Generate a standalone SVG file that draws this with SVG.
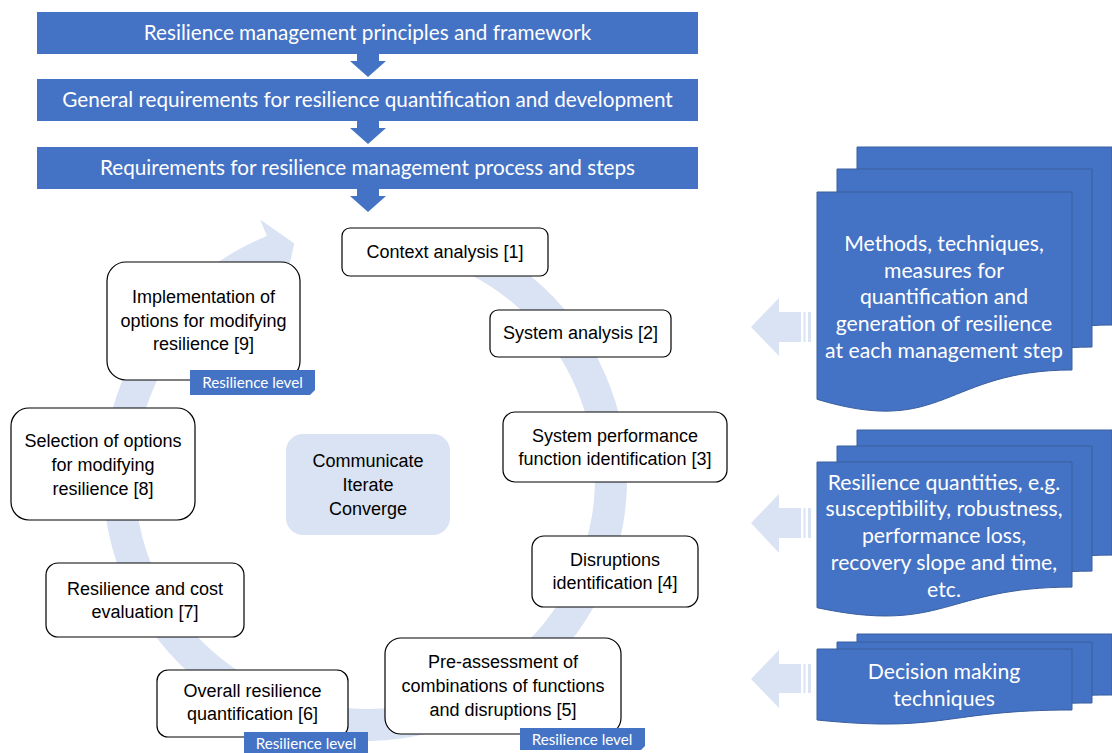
<svg xmlns="http://www.w3.org/2000/svg" width="1112" height="753" viewBox="0 0 1112 753">
<style>
.bar{fill:#4472c4}
.btxt{font-family:Lato,"Open Sans","Liberation Sans",sans-serif;font-size:20.7px;fill:#fff;text-anchor:middle}
.box{fill:#fff;stroke:#000;stroke-width:1.2}
.ntxt{font-family:"Liberation Sans",Arial,sans-serif;font-size:18px;fill:#000;text-anchor:middle}
.tag{fill:#4472c4}
.ttxt{font-family:Lato,"Open Sans",sans-serif;font-size:15.2px;fill:#fff;text-anchor:middle}
.doc{fill:#4472c4;stroke:#3a5f9f;stroke-width:1}
.dtxt{font-family:Lato,"Open Sans",sans-serif;font-size:21.2px;fill:#fff;text-anchor:middle}
.light{fill:#dae3f3}
.darr{fill:#4472c4}
</style>
<rect width="1112" height="753" fill="#fff"/>

<g id="connectors">
  <path class="light" d="M454.6,232.8 A262,262 0 1 1 266.9,236.1 L260.1,219.4 L294.3,243.4 L285.6,282.4 L278.8,265.7 A230,230 0 1 0 443.7,262.9 Z"/>
  <polygon class="darr" points="357,54 379,54 379,61 386,61 368,77 350,61 357,61"/>
  <polygon class="darr" points="357,121 379,121 379,128 386,128 368,144 350,128 357,128"/>
  <polygon class="darr" points="357,189 379,189 379,196 386,196 368,212 350,196 357,196"/>
  <g class="light">
    <polygon points="751,327 779,298 779,312 801,312 801,342 779,342 779,356"/>
    <rect x="803.5" y="312" width="2" height="30"/>
    <rect x="808" y="312" width="3" height="30"/>
    <polygon points="751,523 779,494 779,508 801,508 801,538 779,538 779,553"/>
    <rect x="803.5" y="508" width="2" height="30"/>
    <rect x="808" y="508" width="3" height="30"/>
    <polygon points="751,679 779,650 779,664 801,664 801,693 779,693 779,708"/>
    <rect x="803.5" y="664" width="2" height="29"/>
    <rect x="808" y="664" width="3" height="29"/>
  </g>
</g>

<g id="bar1"><rect class="bar" x="37" y="12" width="661" height="42"/><text class="btxt" x="367.5" y="40">Resilience management principles and framework</text></g>
<g id="bar2"><rect class="bar" x="37" y="79" width="661" height="42"/><text class="btxt" x="367.5" y="107">General requirements for resilience quantification and development</text></g>
<g id="bar3"><rect class="bar" x="37" y="147" width="661" height="42"/><text class="btxt" x="367.5" y="174.5">Requirements for resilience management process and steps</text></g>

<g id="communicate"><rect class="light" x="286" y="434" width="164" height="101" rx="17"/>
  <text class="ntxt" x="368" y="467">Communicate</text><text class="ntxt" x="368" y="491">Iterate</text><text class="ntxt" x="368" y="515">Converge</text></g>

<g id="step1"><rect class="box" x="342" y="228" width="206" height="48" rx="8"/><text class="ntxt" x="445" y="258">Context analysis [1]</text></g>
<g id="step2"><rect class="box" x="490" y="310" width="181" height="47" rx="8"/><text class="ntxt" x="580.5" y="339">System analysis [2]</text></g>
<g id="step3"><rect class="box" x="503" y="412" width="224" height="70" rx="12"/><text class="ntxt" x="615" y="442">System performance</text><text class="ntxt" x="615" y="465">function identification [3]</text></g>
<g id="step4"><rect class="box" x="532" y="536" width="166" height="71" rx="12"/><text class="ntxt" x="615" y="566">Disruptions</text><text class="ntxt" x="615" y="589">identification [4]</text></g>
<g id="step5"><rect class="box" x="385" y="638" width="236" height="96" rx="16"/><text class="ntxt" x="503" y="668">Pre-assessment of</text><text class="ntxt" x="503" y="692">combinations of functions</text><text class="ntxt" x="503" y="716">and disruptions [5]</text>
  <polygon class="tag" points="520,728 645,728 645,746 641,750 520,750"/><text class="ttxt" x="582" y="744.5">Resilience level</text></g>
<g id="step6"><rect class="box" x="157" y="670" width="191" height="67" rx="11"/><text class="ntxt" x="252.5" y="697">Overall resilience</text><text class="ntxt" x="252.5" y="720">quantification [6]</text>
  <polygon class="tag" points="244,732 368,732 368,753 244,753"/><text class="ttxt" x="306" y="749">Resilience level</text></g>
<g id="step7"><rect class="box" x="46" y="563" width="198" height="74" rx="12"/><text class="ntxt" x="145" y="595">Resilience and cost</text><text class="ntxt" x="145" y="618">evaluation [7]</text></g>
<g id="step8"><rect class="box" x="11" y="408" width="184" height="112" rx="18"/><text class="ntxt" x="103" y="447">Selection of options</text><text class="ntxt" x="103" y="471">for modifying</text><text class="ntxt" x="103" y="495">resilience [8]</text></g>
<g id="step9"><rect class="box" x="107" y="262" width="193" height="118" rx="19"/><text class="ntxt" x="203.5" y="303">Implementation of</text><text class="ntxt" x="203.5" y="327">options for modifying</text><text class="ntxt" x="203.5" y="350">resilience [9]</text>
  <polygon class="tag" points="190,370 315,370 315,390 310,395 190,395"/><text class="ttxt" x="252.5" y="388">Resilience level</text></g>

<g id="doc-methods">
  <path class="doc" d="M857,147 H1112 V325 C984.5,325 984.5,392.8 857,354.3 Z"/>
  <path class="doc" d="M837,169 H1092 V347 C964.5,347 964.5,414.8 837,376.3 Z"/>
  <path class="doc" d="M817,192 H1072 V370 C944.5,370 944.5,437.8 817,399.3 Z"/>
  <text class="dtxt" x="944" y="251">Methods, techniques,</text>
  <text class="dtxt" x="944" y="278">measures for</text>
  <text class="dtxt" x="944" y="304">quantification and</text>
  <text class="dtxt" x="944" y="331">generation of resilience</text>
  <text class="dtxt" x="944" y="358">at each management step</text>
</g>
<g id="doc-quantities">
  <path class="doc" d="M857,430 H1112 V555.1 C984.5,555.1 984.5,602.7 857,575.7 Z"/>
  <path class="doc" d="M837,446 H1092 V571.1 C964.5,571.1 964.5,618.7 837,591.7 Z"/>
  <path class="doc" d="M817,462 H1072 V587.1 C944.5,587.1 944.5,634.7 817,607.7 Z"/>
  <text class="dtxt" x="944" y="490">Resilience quantities, e.g.</text>
  <text class="dtxt" x="944" y="516">susceptibility, robustness,</text>
  <text class="dtxt" x="944" y="543">performance loss,</text>
  <text class="dtxt" x="944" y="570">recovery slope and time,</text>
  <text class="dtxt" x="944" y="597">etc.</text>
</g>
<g id="doc-decision">
  <path class="doc" d="M857,634 H1112 V695 C984.5,695 984.5,718.1 857,705 Z"/>
  <path class="doc" d="M837,642 H1092 V703 C964.5,703 964.5,726.1 837,713 Z"/>
  <path class="doc" d="M817,649 H1072 V710 C944.5,710 944.5,733.1 817,720 Z"/>
  <text class="dtxt" x="944" y="679">Decision making</text>
  <text class="dtxt" x="944" y="706">techniques</text>
</g>
</svg>
